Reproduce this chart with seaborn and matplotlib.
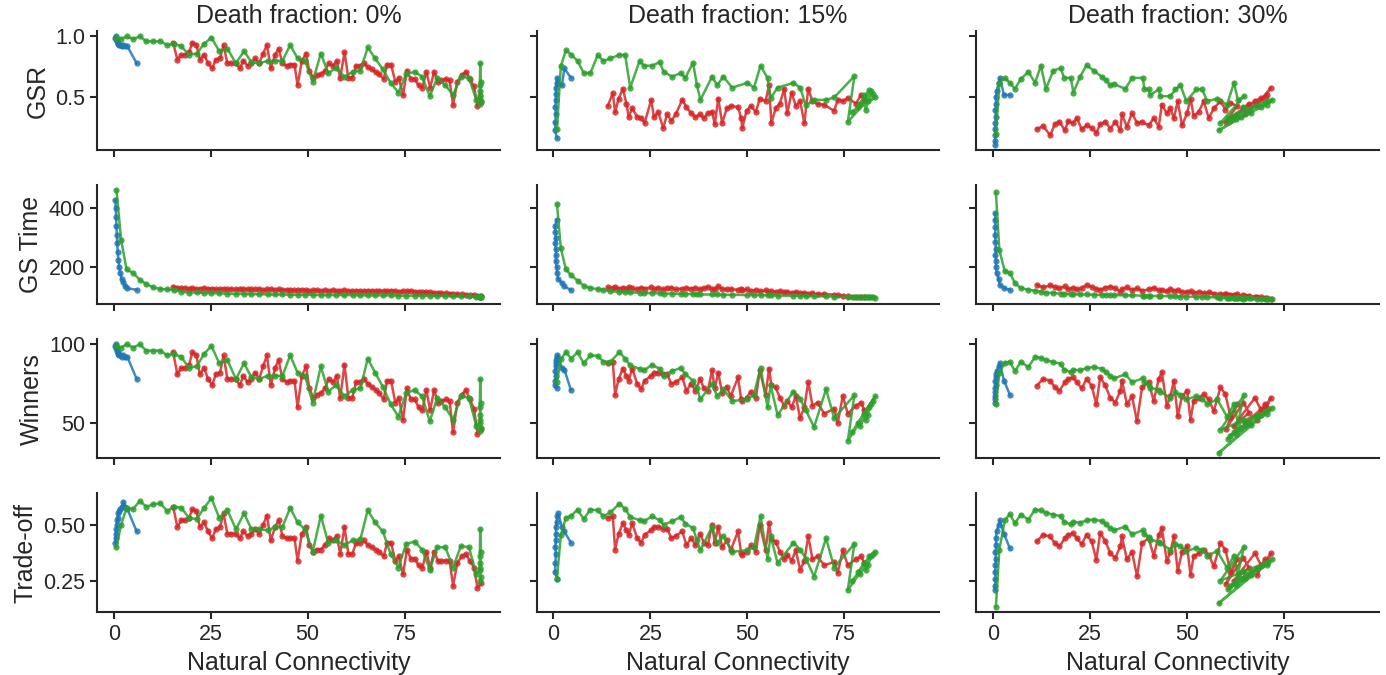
"""
Natural connectivity vs. game outcome metrics, one column per death fraction.
Output -> out.png
"""

import pandas as pd
import matplotlib
matplotlib.use("Agg")
import matplotlib.pyplot as plt
import seaborn as sns

DEATH = ["0%", "15%", "30%"]
METRICS = ["GSR", "GS Time", "Winners", "Trade-off"]
STRATS = ["S1", "S2", "S3"]
PALETTE = {"S1": "#1f77b4", "S2": "#d62728", "S3": "#2ca02c"}
YTICKS = {"GSR": [0.5, 1.0], "GS Time": [200, 400], "Winners": [50, 100], "Trade-off": [0.25, 0.50]}
XTICKS = [0, 25, 50, 75]

# ── death fraction 0% ──
x_b0 = [0.4, 0.5, 0.6, 0.7, 0.8, 0.9, 1.0, 1.2, 1.4, 1.7, 2.0, 2.5, 3.0, 3.5, 5.9]
gsr_b0 = [0.99, 1.0, 0.99, 0.98, 0.97, 0.96, 0.95, 0.94, 0.93, 0.93, 0.92, 0.93, 0.92, 0.92, 0.78]
time_b0 = [428, 400, 370, 340, 310, 280, 250, 225, 200, 180, 160, 148, 135, 128, 123]
win_b0 = [99, 100, 99, 98, 97, 96, 95, 94, 93, 93, 92, 93, 92, 92, 78]
trade_b0 = [0.42, 0.44, 0.46, 0.48, 0.50, 0.52, 0.53, 0.55, 0.56, 0.57, 0.58, 0.60, 0.58, 0.57, 0.47]

x_r0 = [15.3, 16.4, 17.4, 18.4, 19.4, 20.3, 21.3, 22.2, 23.3, 24.3,
        25.4, 26.3, 27.4, 28.3, 29.3, 30.3, 31.4, 32.5, 33.4, 34.5,
        35.5, 36.5, 37.5, 38.5, 39.5, 40.5, 41.6, 42.5, 43.5, 44.6,
        45.5, 46.6, 47.4, 48.5, 49.6, 50.4, 51.5, 52.4, 53.4, 54.5,
        55.4, 56.5, 57.5, 58.4, 59.5, 60.5, 61.5, 62.5, 63.5, 64.5,
        65.5, 66.6, 67.5, 68.5, 69.6, 70.5, 71.5, 72.6, 73.5, 74.6,
        75.6, 76.6, 77.6, 78.6, 79.6, 80.6, 81.6, 82.6, 83.6, 84.5,
        85.6, 86.6, 87.5, 88.6, 89.7, 90.8, 91.8, 92.9, 93.8, 94.8]
gsr_r0 = [0.95, 0.81, 0.85, 0.85, 0.87, 0.95, 0.93, 0.81, 0.85, 0.78,
          0.74, 0.81, 0.82, 0.93, 0.78, 0.78, 0.78, 0.74, 0.80, 0.76,
          0.78, 0.82, 0.78, 0.86, 0.93, 0.74, 0.85, 0.90, 0.78, 0.76,
          0.77, 0.77, 0.60, 0.80, 0.86, 0.72, 0.66, 0.68, 0.69, 0.72,
          0.78, 0.76, 0.80, 0.66, 0.87, 0.66, 0.66, 0.76, 0.76, 0.78,
          0.75, 0.73, 0.71, 0.69, 0.65, 0.77, 0.77, 0.63, 0.66, 0.52,
          0.72, 0.65, 0.65, 0.60, 0.58, 0.71, 0.58, 0.71, 0.63, 0.64,
          0.65, 0.64, 0.44, 0.63, 0.68, 0.71, 0.65, 0.59, 0.43, 0.46]
time_r0 = [134, 130, 128, 129, 127, 128, 126, 127, 128, 126,
           127, 125, 126, 127, 125, 126, 124, 125, 126, 124,
           125, 124, 126, 123, 124, 125, 123, 124, 122, 123,
           123, 121, 122, 123, 121, 120, 122, 121, 120, 121,
           120, 121, 119, 120, 121, 119, 118, 120, 119, 118,
           120, 119, 119, 120, 118, 119, 120, 118, 117, 118,
           118, 119, 117, 116, 115, 116, 114, 113, 112, 111,
           111, 110, 109, 108, 107, 106, 105, 104, 103, 102]
win_r0 = [95, 81, 85, 85, 87, 95, 93, 81, 85, 78,
          74, 81, 82, 93, 78, 78, 78, 74, 80, 76,
          78, 82, 78, 86, 93, 74, 85, 90, 78, 76,
          77, 77, 60, 80, 86, 72, 66, 68, 69, 72,
          78, 76, 80, 66, 87, 66, 66, 76, 76, 78,
          75, 73, 71, 69, 65, 77, 77, 63, 66, 52,
          72, 65, 65, 60, 58, 71, 58, 71, 63, 64,
          65, 64, 44, 63, 68, 71, 65, 59, 43, 46]
trade_r0 = [0.58, 0.49, 0.52, 0.52, 0.53, 0.57, 0.56, 0.49, 0.51, 0.47,
            0.44, 0.48, 0.49, 0.55, 0.46, 0.46, 0.46, 0.44, 0.47, 0.45,
            0.46, 0.48, 0.46, 0.50, 0.54, 0.43, 0.49, 0.52, 0.45, 0.44,
            0.44, 0.44, 0.34, 0.46, 0.49, 0.41, 0.38, 0.39, 0.39, 0.41,
            0.44, 0.43, 0.45, 0.37, 0.49, 0.37, 0.37, 0.42, 0.42, 0.43,
            0.41, 0.40, 0.39, 0.38, 0.36, 0.42, 0.42, 0.34, 0.36, 0.28,
            0.39, 0.35, 0.35, 0.32, 0.31, 0.38, 0.31, 0.38, 0.34, 0.34,
            0.34, 0.34, 0.23, 0.33, 0.36, 0.37, 0.34, 0.31, 0.22, 0.24]

x_g0 = [0.7, 1.9, 3.3, 5.0, 6.7, 8.4, 10.2, 12.0, 13.8, 15.5,
        17.4, 19.4, 21.4, 23.3, 25.2, 27.2, 29.3, 31.5, 33.6, 35.5,
        37.5, 39.7, 41.6, 43.5, 45.5, 47.4, 49.3, 51.3, 53.4, 55.3,
        57.3, 59.5, 61.6, 63.6, 65.5, 67.4, 69.4, 71.4, 73.4, 75.4,
        77.6, 79.5, 81.5, 83.4, 85.5, 87.5, 89.5, 91.6, 93.5,
        94.4, 94.5, 94.6, 94.5, 94.4, 94.5, 94.6, 94.5]
gsr_g0 = [0.99, 0.98, 1.0, 0.98, 1.0, 0.96, 0.96, 0.96, 0.93, 0.94,
          0.92, 0.85, 0.86, 0.94, 0.99, 0.88, 0.90, 0.78, 0.88, 0.79,
          0.78, 0.80, 0.80, 0.80, 0.93, 0.82, 0.80, 0.63, 0.86, 0.70,
          0.74, 0.67, 0.71, 0.72, 0.91, 0.82, 0.73, 0.62, 0.54, 0.69,
          0.71, 0.67, 0.51, 0.66, 0.60, 0.52, 0.67, 0.66, 0.48,
          0.50, 0.55, 0.63, 0.78, 0.60, 0.52, 0.47, 0.45]
time_g0 = [460, 292, 192, 180, 157, 142, 131, 126, 124, 122,
           117, 113, 114, 112, 112, 111, 110, 109, 109, 108,
           108, 107, 107, 107, 106, 106, 106, 106, 105, 105,
           105, 105, 105, 104, 104, 104, 104, 104, 103, 103,
           103, 103, 102, 102, 102, 102, 101, 101, 100,
           100, 99, 100, 101, 100, 99, 100, 100]
win_g0 = [99, 98, 100, 98, 100, 96, 96, 96, 93, 94,
          92, 85, 86, 94, 99, 88, 90, 78, 88, 79,
          78, 80, 80, 80, 93, 82, 80, 63, 86, 70,
          74, 67, 71, 72, 91, 82, 73, 62, 54, 69,
          71, 67, 51, 66, 60, 52, 67, 66, 48,
          50, 55, 63, 78, 60, 52, 47, 45]
trade_g0 = [0.40, 0.50, 0.575, 0.57, 0.605, 0.58, 0.59, 0.595, 0.56, 0.58,
            0.575, 0.53, 0.525, 0.575, 0.617, 0.53, 0.565, 0.48, 0.55, 0.48,
            0.48, 0.475, 0.49, 0.49, 0.575, 0.51, 0.48, 0.38, 0.54, 0.42,
            0.43, 0.41, 0.43, 0.435, 0.565, 0.51, 0.47, 0.37, 0.31, 0.415,
            0.425, 0.39, 0.30, 0.40, 0.40, 0.31, 0.405, 0.40, 0.28,
            0.30, 0.33, 0.38, 0.48, 0.36, 0.31, 0.27, 0.25]

# ── death fraction 15% ──
x_b1 = [0.9, 0.4, 0.5, 0.6, 0.5, 0.6, 0.7, 0.6, 0.8, 1.0, 1.2, 2.2, 2.8, 4.5]
gsr_b1 = [0.17, 0.23, 0.30, 0.36, 0.42, 0.48, 0.53, 0.58, 0.62, 0.66, 0.62, 0.60, 0.74, 0.66]
time_b1 = [360, 340, 320, 300, 280, 260, 240, 220, 200, 180, 160, 145, 135, 122]
win_b1 = [72, 74, 77, 80, 83, 86, 88, 90, 92, 93, 91, 85, 84, 71]
trade_b1 = [0.26, 0.29, 0.33, 0.37, 0.40, 0.43, 0.46, 0.49, 0.51, 0.54, 0.55, 0.49, 0.47, 0.42]

x_r1 = [14.0, 15.3, 15.9, 16.8, 17.9, 18.8, 19.4, 20.3, 21.6, 22.6,
        23.5, 25.2, 25.9, 27.0, 28.3, 29.3, 30.4, 31.5, 33.2, 34.3,
        35.5, 36.6, 37.8, 38.8, 39.8, 40.9, 41.6, 42.5, 43.5, 44.7,
        45.7, 47.6, 48.4, 48.7, 49.8, 50.9, 52.2, 53.2, 54.7, 55.6,
        56.2, 57.3, 58.4, 59.5, 60.3, 61.4, 62.5, 63.6, 64.7, 65.7,
        66.8, 68.1, 69.8, 72.4, 73.3, 74.6, 75.9, 78.0, 79.3, 80.2]
gsr_r1 = [0.43, 0.535, 0.38, 0.49, 0.57, 0.45, 0.34, 0.41, 0.34, 0.33,
          0.29, 0.48, 0.34, 0.38, 0.25, 0.36, 0.31, 0.36, 0.48, 0.42,
          0.37, 0.34, 0.36, 0.33, 0.37, 0.38, 0.28, 0.49, 0.29, 0.41,
          0.43, 0.42, 0.33, 0.25, 0.39, 0.43, 0.38, 0.49, 0.47, 0.60,
          0.29, 0.41, 0.45, 0.57, 0.37, 0.54, 0.43, 0.47, 0.29, 0.57,
          0.47, 0.445, 0.44, 0.39, 0.48, 0.47, 0.495, 0.45, 0.52, 0.48]
time_r1 = [131, 128, 133, 127, 130, 126, 132, 128, 125, 130,
           127, 131, 126, 129, 124, 128, 130, 125, 127, 129,
           126, 130, 124, 128, 133, 127, 125, 135, 126, 124,
           125, 123, 127, 121, 124, 120, 122, 118, 121, 117,
           119, 116, 118, 114, 116, 113, 115, 111, 112, 110,
           111, 108, 109, 106, 104, 103, 101, 99, 98, 97]
win_r1 = [88, 89, 68, 78, 84.5, 80, 77, 84.5, 75, 71.6,
          77, 80, 82, 82, 81, 81, 75, 76, 79, 70.5,
          75, 70.5, 78, 72, 70.5, 83.4, 72, 82, 69, 73,
          67, 79, 65, 64, 66, 70, 66, 83.4, 68, 84.5,
          74, 72.6, 66, 61, 64, 60, 67, 53, 60, 76,
          61, 63, 56, 59, 50, 67, 56, 61, 63, 58]
trade_r1 = [0.53, 0.537, 0.39, 0.46, 0.506, 0.476, 0.455, 0.506, 0.44, 0.42,
            0.455, 0.476, 0.49, 0.49, 0.483, 0.483, 0.44, 0.45, 0.47, 0.41,
            0.44, 0.41, 0.46, 0.42, 0.41, 0.50, 0.42, 0.49, 0.40, 0.43,
            0.387, 0.47, 0.374, 0.367, 0.38, 0.408, 0.38, 0.50, 0.39, 0.506,
            0.435, 0.425, 0.38, 0.347, 0.367, 0.34, 0.387, 0.30, 0.34, 0.45,
            0.347, 0.36, 0.32, 0.335, 0.285, 0.387, 0.32, 0.347, 0.36, 0.33]

x_g1 = [0.9, 1.9, 3.2, 4.6, 6.2, 7.8, 9.5, 11.4, 12.9, 14.7,
        17.0, 18.5, 19.8, 22.2, 23.3, 25.4, 27.4, 28.4, 30.6, 32.8,
        34.0, 36.0, 37.0, 37.9, 40.9, 42.2, 43.8, 46.1, 50.0, 51.7,
        53.4, 55.2, 56.0, 57.8, 61.9, 63.6, 65.1, 67.2, 70.3, 72.4,
        77.6, 75.9, 82.5, 77.0, 83.0, 78.5, 81.5, 79.0, 82.0, 80.5,
        80.0, 81.0]
gsr_g1 = [0.24, 0.757, 0.887, 0.85, 0.80, 0.70, 0.70, 0.845, 0.80, 0.82,
          0.85, 0.845, 0.58, 0.80, 0.76, 0.76, 0.79, 0.71, 0.67, 0.70,
          0.66, 0.785, 0.60, 0.48, 0.67, 0.60, 0.67, 0.58, 0.62, 0.58,
          0.76, 0.66, 0.495, 0.58, 0.62, 0.58, 0.435, 0.48, 0.48, 0.50,
          0.675, 0.30, 0.53, 0.38, 0.50, 0.42, 0.56, 0.45, 0.55, 0.40,
          0.52, 0.47]
time_g1 = [414, 264, 192, 172, 154, 137, 129, 125, 123, 118,
           116, 115, 114, 113, 112, 112, 111, 110, 110, 109,
           109, 108, 108, 107, 107, 107, 106, 106, 105, 105,
           105, 104, 104, 103, 103, 102, 102, 101, 101, 100,
           99, 99, 97, 98, 96, 98, 97, 98, 97, 98,
           97, 97]
win_g1 = [76, 90.5, 95, 91, 95, 88, 93, 92.7, 89, 89,
          95, 91, 86.6, 84.5, 83.4, 87, 84.5, 80, 83, 85,
          81, 77, 72, 65, 75, 67, 71.5, 64, 65, 68,
          85, 60, 74, 55, 70, 65.5, 58, 47.4, 71.5, 53,
          67.7, 38.6, 64, 44, 67, 50, 60, 48, 62, 52,
          56, 55]
trade_g1 = [0.26, 0.455, 0.53, 0.54, 0.567, 0.525, 0.567, 0.564, 0.537, 0.555,
            0.593, 0.57, 0.534, 0.52, 0.515, 0.537, 0.52, 0.50, 0.515, 0.534,
            0.505, 0.485, 0.43, 0.387, 0.49, 0.42, 0.45, 0.38, 0.387, 0.40,
            0.537, 0.35, 0.45, 0.33, 0.42, 0.39, 0.35, 0.27, 0.44, 0.31,
            0.415, 0.21, 0.37, 0.25, 0.38, 0.29, 0.36, 0.28, 0.36, 0.30,
            0.33, 0.32]

# ── death fraction 30% ──
x_b2 = [0.6, 0.5, 0.6, 0.5, 0.6, 0.7, 0.6, 0.8, 0.7, 0.9, 1.4, 1.7, 2.8, 4.3]
gsr_b2 = [0.11, 0.14, 0.19, 0.24, 0.29, 0.34, 0.40, 0.45, 0.50, 0.55, 0.62, 0.66, 0.52, 0.52]
time_b2 = [384, 360, 335, 310, 285, 260, 240, 220, 200, 180, 160, 140, 128, 123]
win_b2 = [63, 65, 67, 70, 72, 74, 77, 79, 81, 83, 86, 88, 77, 68]
trade_b2 = [0.21, 0.23, 0.26, 0.29, 0.32, 0.35, 0.38, 0.41, 0.44, 0.47, 0.50, 0.52, 0.46, 0.395]

x_r2 = [11.2, 12.9, 14.7, 15.9, 17.1, 18.5, 19.4, 20.5, 21.6, 22.8,
        24.1, 25.4, 26.6, 27.6, 28.9, 30.2, 31.5, 32.8, 33.2, 34.5,
        35.8, 37.1, 38.4, 40.1, 41.4, 42.7, 43.5, 44.8, 45.7, 46.6,
        47.6, 48.7, 50.0, 50.9, 51.7, 53.0, 54.3, 55.6, 56.9, 58.6,
        59.9, 61.2, 62.9, 60.0, 64.5, 66.0, 62.0, 67.5, 69.0, 65.0,
        70.5, 71.6, 68.0, 70.0]
gsr_r2 = [0.24, 0.265, 0.19, 0.28, 0.30, 0.23, 0.31, 0.29, 0.33, 0.24,
          0.27, 0.25, 0.21, 0.28, 0.30, 0.245, 0.30, 0.23, 0.36, 0.26,
          0.37, 0.29, 0.30, 0.27, 0.33, 0.26, 0.44, 0.37, 0.41, 0.33,
          0.47, 0.27, 0.37, 0.49, 0.35, 0.38, 0.47, 0.33, 0.41, 0.47,
          0.40, 0.455, 0.43, 0.30, 0.41, 0.45, 0.34, 0.47, 0.495, 0.36,
          0.52, 0.58, 0.44, 0.50]
time_r2 = [140, 131, 138, 133, 128, 135, 126, 130, 124, 128,
           140, 133, 126, 123, 130, 134, 128, 117, 125, 132,
           122, 128, 120, 124, 130, 121, 123, 118, 126, 119,
           122, 116, 115, 118, 113, 116, 112, 114, 110, 108,
           109, 106, 107, 108, 104, 102, 105, 100, 97, 103,
           96, 92, 99, 95]
win_r2 = [73.7, 78, 77, 72.6, 70.5, 75.9, 78, 79, 76, 72,
          78, 73.7, 61.9, 79, 74, 66, 63, 70.5, 77, 62,
          67, 51, 72.6, 76, 64, 78, 82.3, 60.8, 67, 77,
          54.3, 67, 70.5, 52, 64, 66, 68.3, 65, 57.5, 72.6,
          68.3, 54, 62, 46, 63, 56.5, 48, 66, 58.6, 50,
          59.7, 66, 52, 62]
trade_r2 = [0.426, 0.455, 0.448, 0.418, 0.404, 0.44, 0.455, 0.462, 0.441, 0.414,
            0.455, 0.426, 0.345, 0.462, 0.428, 0.373, 0.353, 0.404, 0.448, 0.346,
            0.38, 0.271, 0.418, 0.441, 0.36, 0.455, 0.484, 0.338, 0.38, 0.448,
            0.294, 0.38, 0.404, 0.278, 0.36, 0.373, 0.389, 0.366, 0.315, 0.418,
            0.389, 0.292, 0.346, 0.237, 0.353, 0.309, 0.251, 0.373, 0.323, 0.264,
            0.33, 0.373, 0.278, 0.346]

x_g2 = [0.7, 1.6, 3.0, 4.3, 5.6, 7.1, 9.1, 10.8, 12.3, 13.6,
        15.5, 17.4, 18.3, 20.0, 20.7, 22.4, 24.1, 25.9, 28.0, 29.1,
        30.2, 31.2, 34.1, 35.8, 38.6, 39.0, 40.1, 40.5, 42.7, 43.1,
        45.7, 47.0, 48.3, 49.8, 52.4, 53.9, 55.2, 57.8, 60.3, 62.1,
        63.1, 64.7, 58.6, 70.0, 58.2, 72.0, 60.5, 68.0, 61.0, 71.0,
        62.0, 69.0, 62.5, 70.5, 63.0, 66.0, 64.0, 66.5, 64.5, 65.0]
gsr_g2 = [0.196, 0.62, 0.66, 0.62, 0.57, 0.65, 0.71, 0.62, 0.76, 0.57,
          0.72, 0.74, 0.66, 0.66, 0.54, 0.67, 0.765, 0.72, 0.67, 0.64,
          0.60, 0.61, 0.57, 0.66, 0.66, 0.57, 0.565, 0.52, 0.565, 0.51,
          0.51, 0.565, 0.60, 0.47, 0.565, 0.565, 0.47, 0.49, 0.44, 0.62,
          0.48, 0.51, 0.29, 0.46, 0.23, 0.48, 0.33, 0.44, 0.31, 0.47,
          0.35, 0.42, 0.32, 0.44, 0.36, 0.40, 0.34, 0.37, 0.42, 0.38]
time_g2 = [453, 257, 186, 180, 146, 129, 123, 120, 116, 113,
           112, 110, 109, 108, 108, 107, 107, 106, 106, 106,
           105, 105, 104, 104, 103, 103, 103, 102, 102, 102,
           101, 101, 100, 100, 99, 99, 98, 97, 96, 96,
           95, 95, 96, 93, 97, 92, 94, 92, 96, 93,
           95, 93, 96, 93, 95, 94, 95, 94, 93, 95]
win_g2 = [62, 82, 88, 89, 83, 88.8, 85.6, 92, 91.4, 89.9,
          88.8, 87.7, 84, 82.3, 84, 83.4, 85, 85.6, 84.5, 82.3,
          80, 78.4, 81, 76, 78.4, 76, 74, 72.5, 71, 70,
          66, 69.4, 68, 65, 67, 65.5, 62, 65, 54, 62,
          50, 67.7, 45.7, 57, 31, 59.7, 40, 54, 42, 58,
          44, 55, 43, 56, 46, 50, 47, 49, 52, 48]
trade_g2 = [0.136, 0.39, 0.52, 0.547, 0.506, 0.545, 0.523, 0.567, 0.563, 0.553,
            0.545, 0.538, 0.513, 0.501, 0.513, 0.509, 0.519, 0.523, 0.516, 0.501,
            0.485, 0.475, 0.492, 0.458, 0.475, 0.458, 0.445, 0.434, 0.424, 0.417,
            0.39, 0.413, 0.404, 0.383, 0.397, 0.387, 0.363, 0.383, 0.309, 0.363,
            0.281, 0.402, 0.252, 0.329, 0.152, 0.347, 0.213, 0.309, 0.227, 0.336,
            0.241, 0.315, 0.234, 0.322, 0.254, 0.281, 0.261, 0.275, 0.295, 0.268]

SERIES = {
    ("0%", "S1"): (x_b0, gsr_b0, time_b0, win_b0, trade_b0),
    ("0%", "S2"): (x_r0, gsr_r0, time_r0, win_r0, trade_r0),
    ("0%", "S3"): (x_g0, gsr_g0, time_g0, win_g0, trade_g0),
    ("15%", "S1"): (x_b1, gsr_b1, time_b1, win_b1, trade_b1),
    ("15%", "S2"): (x_r1, gsr_r1, time_r1, win_r1, trade_r1),
    ("15%", "S3"): (x_g1, gsr_g1, time_g1, win_g1, trade_g1),
    ("30%", "S1"): (x_b2, gsr_b2, time_b2, win_b2, trade_b2),
    ("30%", "S2"): (x_r2, gsr_r2, time_r2, win_r2, trade_r2),
    ("30%", "S3"): (x_g2, gsr_g2, time_g2, win_g2, trade_g2),
}


def build_frame():
    frames = []
    for (death, strat), (x, gsr, gst, win, tr) in SERIES.items():
        frames.append(pd.DataFrame({
            "death": death, "strategy": strat, "x": x,
            "GSR": gsr, "GS Time": gst, "Winners": win, "Trade-off": tr,
        }))
    return pd.concat(frames, ignore_index=True)


def run():
    df = build_frame()

    sns.set_theme(style="ticks", context="talk")
    plt.rcParams["font.family"] = ["Liberation Sans", "DejaVu Sans"]

    fig, axes = plt.subplots(4, 3, figsize=(13.86, 6.75), dpi=100,
                             sharex=True, sharey="row")

    for j, death in enumerate(DEATH):
        sub = df[df["death"] == death]
        for i, metric in enumerate(METRICS):
            ax = axes[i, j]
            sns.lineplot(
                data=sub, x="x", y=metric, hue="strategy", hue_order=STRATS,
                palette=PALETTE, estimator=None, sort=False, legend=False,
                marker="o", markersize=4.5, markeredgewidth=0,
                linewidth=1.8, alpha=0.85, ax=ax,
            )
            ax.set_xlabel("Natural Connectivity" if i == 3 else "", fontsize=18)
            ax.set_ylabel(metric if j == 0 else "", fontsize=18)
            ax.tick_params(labelsize=15.5, length=5, width=1.5)
            for sp in ax.spines.values():
                sp.set_linewidth(1.5)
        axes[0, j].set_title(f"Death fraction: {death}", fontsize=18)

    for i, metric in enumerate(METRICS):
        axes[i, 0].set_yticks(YTICKS[metric])
    axes[0, 0].set_xticks(XTICKS)

    sns.despine(fig)
    fig.subplots_adjust(left=0.07, right=0.995, top=0.954, bottom=0.093,
                        wspace=0.092, hspace=0.29)
    fig.savefig("out.png", dpi=100)
    plt.close(fig)


if __name__ == "__main__":
    run()
